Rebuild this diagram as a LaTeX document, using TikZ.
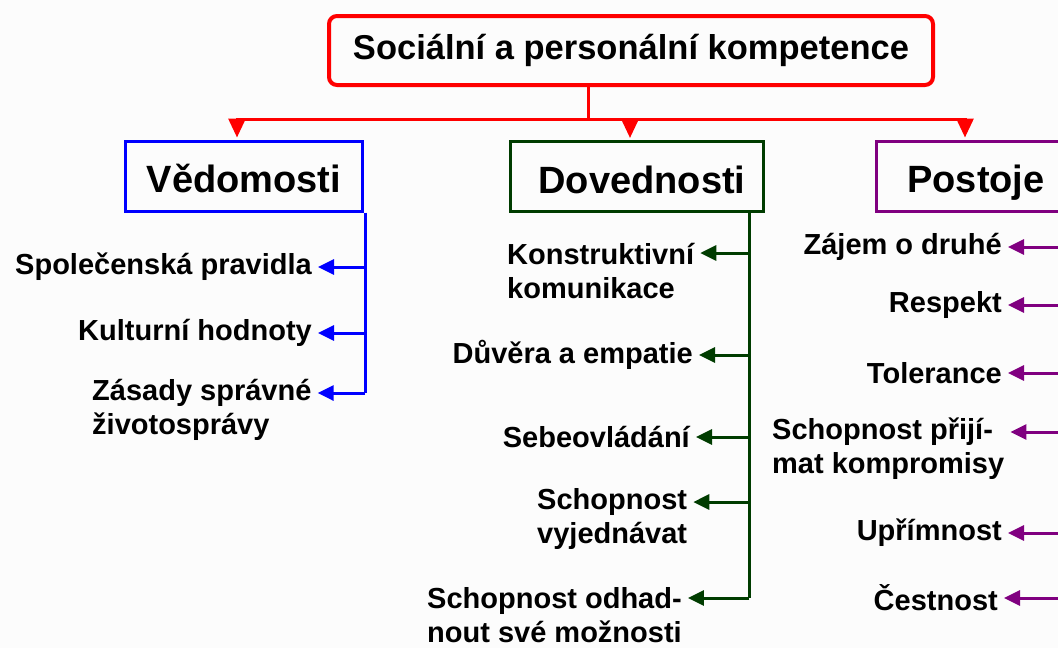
\documentclass[tikz,border=0pt]{standalone}
\usepackage{fontspec}
\setmainfont{Liberation Sans}
\usetikzlibrary{arrows.meta}
\definecolor{cred}{RGB}{255,0,0}
\definecolor{cblue}{RGB}{0,0,255}
\definecolor{cgreen}{RGB}{0,60,0}
\definecolor{cpurple}{RGB}{128,0,128}
\definecolor{cbg}{RGB}{252,252,252}
\begin{document}
\begin{tikzpicture}[x=1pt,y=-1pt,
  topbox/.style={draw=cred, line width=4pt, rounded corners=8pt, minimum width=604pt, minimum height=69pt, inner sep=0pt, font=\bfseries\fontsize{34.5}{40}\selectfont},
  catbox/.style={draw, line width=3pt, minimum height=70pt, inner sep=0pt, text height=36pt, text depth=3pt, font=\bfseries\fontsize{38}{44}\selectfont},
  leaf/.style={inner sep=0pt, font=\bfseries\fontsize{29}{34}\selectfont, align=left},
  trunk/.style={line width=3pt},
  redarrow/.style={draw=cred, line width=3pt, -{Triangle[length=19pt,width=17pt]}, shorten >=2pt},
  leafarrow/.style={line width=3pt, -{Triangle[length=16pt,width=15pt]}, shorten >=6pt}]
\useasboundingbox (0,0) rectangle (1058,648);
\clip (0,0) rectangle (1058,648);
\fill[cbg] (0,0) rectangle (1058,648);

% headers
\node[topbox] (top) at (631,50.5) {Sociální a personální kompetence};
\node[catbox, draw=cblue, minimum width=237pt] (ved) at (244,176) {Vědomosti};
\node[catbox, draw=cgreen, minimum width=253pt] (dov) at (637,176.5) {\hspace{10pt}Dovednosti};
\node[catbox, draw=cpurple, minimum width=199pt] (pos) at (976,176) {Postoje};

% red connectors
\coordinate (rj) at (588,119);
\draw[cred, line width=3pt] (top.south -| rj) -- (rj);
\draw[redarrow] (rj) -| ([xshift=-7pt]ved.north);
\draw[redarrow] (rj) -| ([xshift=-7pt]dov.north);
\draw[redarrow] (rj) -| ([xshift=-11pt]pos.north);

% Vedomosti leaves
\node[leaf, anchor=east] (v1) at (312,267) {Společenská pravidla};
\node[leaf, anchor=east] (v2) at (312,333) {Kulturní hodnoty};
\node[leaf, anchor=west] (v3) at (92,410) {Zásady správné\\životosprávy};
\coordinate (vb1) at (365,267);
\coordinate (vb2) at (365,333);
\coordinate (vb3) at (365,393);
\draw[trunk, cblue] (ved.south -| vb3) -- (vb3);
\draw[leafarrow, cblue] (vb1) -- (vb1 -| v1.east);
\draw[leafarrow, cblue] (vb2) -- (vb2 -| v2.east);
\draw[leafarrow, cblue] (vb3) -- (vb3 -| v3.east);

% Dovednosti leaves
\node[leaf, anchor=west] (d1) at (507,271) {Konstruktivní\\komunikace};
\node[leaf, anchor=east] (d2) at (693,355) {Důvěra a empatie};
\node[leaf, anchor=east] (d3) at (690,437) {Sebeovládání};
\node[leaf, anchor=west] (d4) at (537,519) {Schopnost\\vyjednávat};
\node[leaf, anchor=west] (d5) at (427,615) {Schopnost odhad-\\nout své možnosti};
\coordinate (db1) at (749,253);
\coordinate (db2) at (749,355);
\coordinate (db3) at (749,437);
\coordinate (db4) at (749,502);
\coordinate (db5) at (749,598);
\draw[trunk, cgreen] (dov.south -| db5) -- (db5);
\foreach \i in {1,...,5} {
  \draw[leafarrow, cgreen] (db\i) -- (db\i -| d\i.east);
}

% Postoje leaves
\node[leaf, anchor=east] (p1) at (1002,247) {Zájem o druhé};
\node[leaf, anchor=east] (p2) at (1002,305) {Respekt};
\node[leaf, anchor=east] (p3) at (1002,373) {Tolerance};
\node[leaf, anchor=west] (p4) at (772,449) {Schopnost přijí-\\mat kompromisy};
\node[leaf, anchor=east] (p5) at (1002,533) {Upřímnost};
\node[leaf, anchor=east] (p6) at (998,598) {Čestnost};
\coordinate (pb1) at (1072,247);
\coordinate (pb2) at (1072,305);
\coordinate (pb3) at (1072,373);
\coordinate (pb4) at (1072,432);
\coordinate (pb5) at (1072,533);
\coordinate (pb6) at (1072,598);
\draw[trunk, cpurple] (pos.south -| pb6) -- (pb6);
\foreach \i in {1,...,6} {
  \draw[leafarrow, cpurple] (pb\i) -- (pb\i -| p\i.east);
}
\end{tikzpicture}
\end{document}
